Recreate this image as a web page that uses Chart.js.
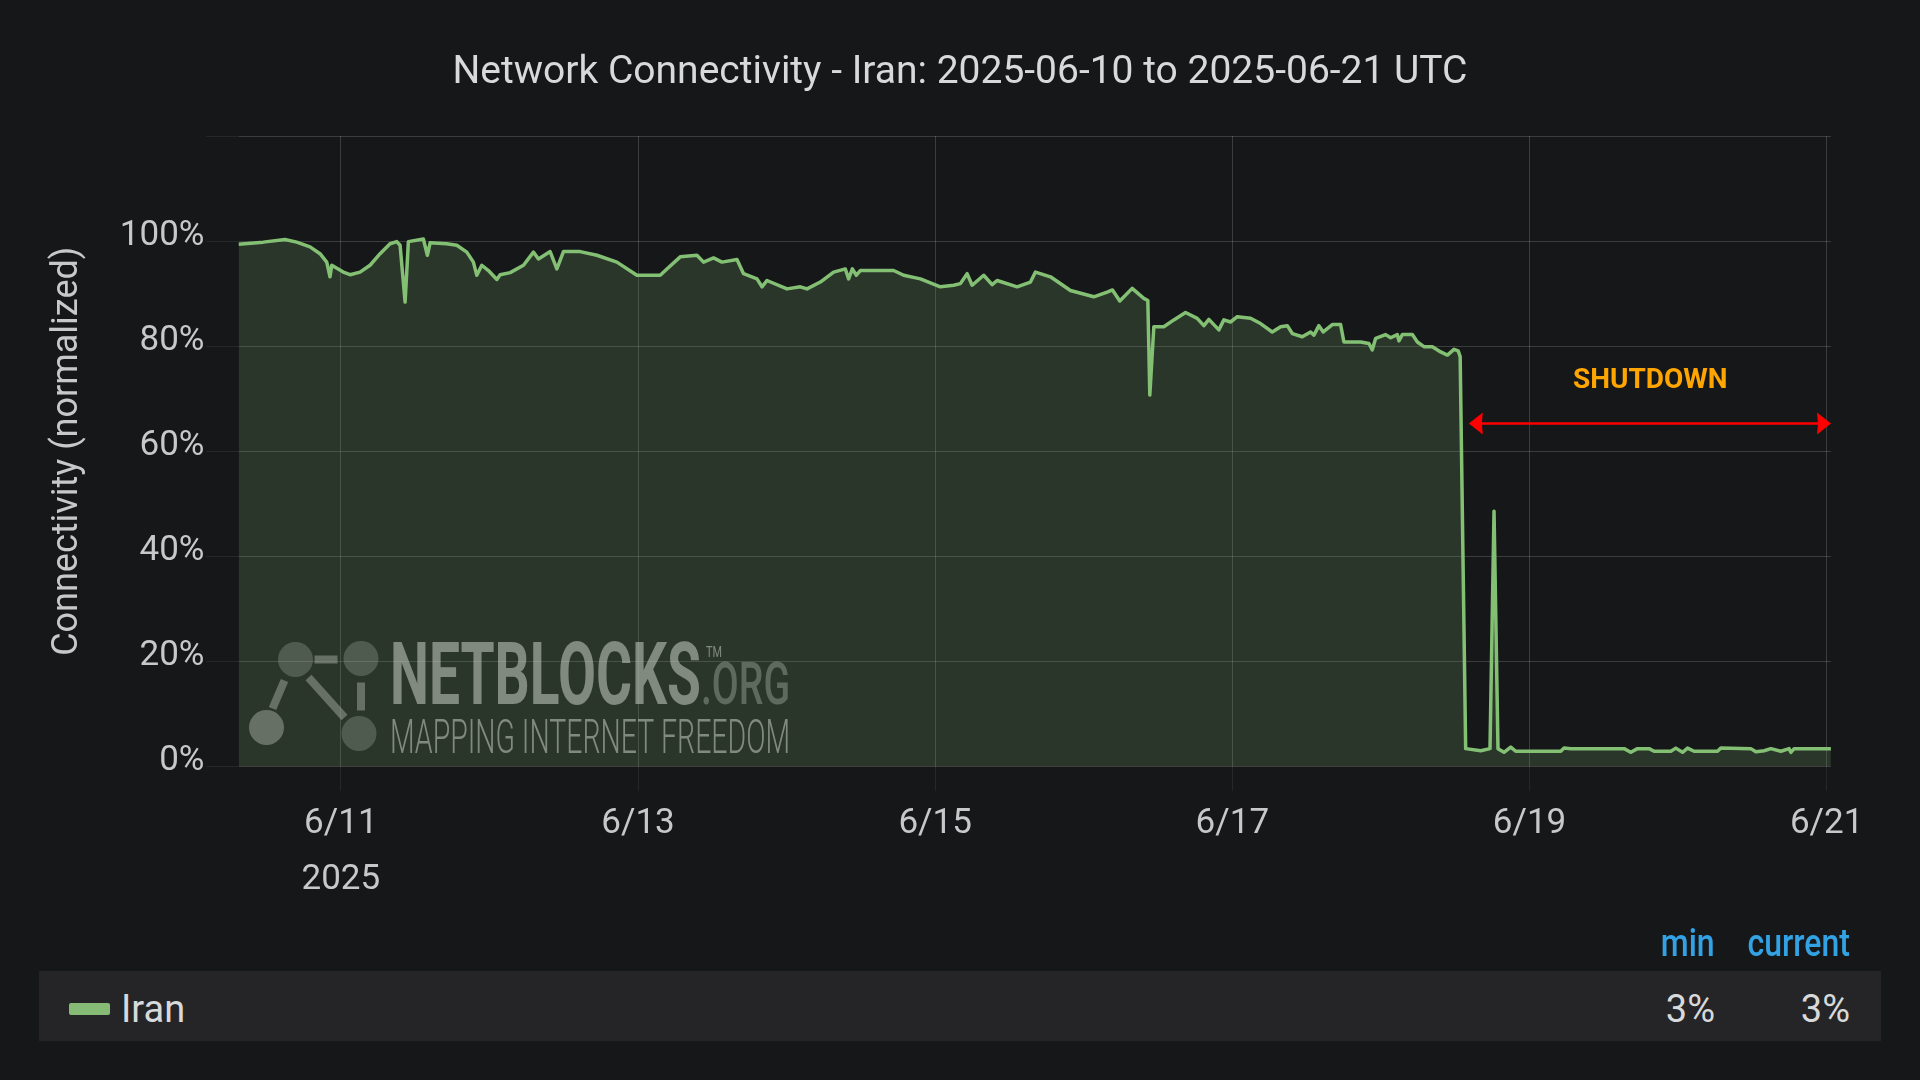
<!DOCTYPE html>
<html>
<head>
<meta charset="utf-8">
<title>Network Connectivity - Iran</title>
<script src="https://cdn.jsdelivr.net/npm/chart.js@4.4.1/dist/chart.umd.min.js"></script>
<style>
  html, body { margin: 0; padding: 0; background: #161719; }
  #wrap { position: relative; width: 1920px; height: 1080px; overflow: hidden; font-family: Roboto, "Noto Sans", sans-serif; }
  #chartBox { position: absolute; left: 0; top: 0; width: 1920px; height: 1080px; }
  .title { position: absolute; left: 0; top: 50px; width: 1920px; height: 40px; line-height: 40px; text-align: center; font-size: 39px; color: #d8d9da; }
  .head { position: absolute; top: 924px; line-height: 39px; font-size: 39px; font-weight: 500; color: #33a2e5; transform: scaleX(0.82); transform-origin: right center; white-space: nowrap; }
  .row { position: absolute; left: 39px; top: 971px; width: 1842px; height: 70px; background: #252527; }
  .swatch { position: absolute; left: 69px; top: 1003px; width: 41px; height: 12px; border-radius: 2px; background: #86bb76; }
  .cell { position: absolute; top: 990px; line-height: 38px; font-size: 38px; color: #d8d9da; white-space: nowrap; }
</style>
</head>
<body>
<div id="wrap">
  <div id="chartBox"><canvas id="myChart"></canvas></div>
  <div class="title">Network Connectivity - Iran: 2025-06-10 to 2025-06-21 UTC</div>
  <div class="head" style="right:205px">min</div>
  <div class="head" style="right:70px">current</div>
  <div class="row"></div>
  <div class="swatch"></div>
  <div class="cell" style="left:121px">Iran</div>
  <div class="cell" style="right:205px">3%</div>
  <div class="cell" style="right:70px">3%</div>
</div>
<script>
// hours since 2025-06-10 00:00 UTC
const hours = [7.47, 11.47, 14.98, 16.87, 19.02, 20.64, 21.72, 22.25, 22.53, 24.40,
  25.49, 27.10, 28.72, 30.34, 31.95, 33.03, 33.57, 34.38, 34.91, 37.33,
  37.98, 38.42, 41.12, 42.73, 44.35, 45.41, 45.96, 46.77, 47.84, 49.20,
  49.73, 51.35, 53.50, 55.11, 55.92, 57.81, 58.89, 59.96, 62.66, 65.36,
  68.59, 71.82, 75.59, 76.67, 78.82, 81.52, 82.59, 84.20, 85.56, 87.99,
  89.05, 91.22, 92.03, 92.83, 96.07, 98.22, 99.30, 101.45, 103.60, 105.49,
  106.02, 106.62, 107.27, 107.91, 113.29, 114.91, 117.61, 120.84, 122.99, 124.07,
  125.16, 125.97, 127.84, 129.20, 130.01, 133.24, 135.39, 136.20, 138.62, 141.85,
  145.62, 147.78, 148.64, 149.82, 151.82, 153.70, 154.35, 154.67, 155.32, 156.93,
  158.55, 160.44, 162.33, 163.40, 164.21, 165.82, 166.63, 167.71, 168.80, 170.94,
  172.56, 174.45, 175.80, 176.88, 177.69, 179.30, 180.64, 181.18, 181.98, 182.69,
  184.15, 185.49, 186.02, 188.72, 190.06, 190.61, 191.15, 192.76, 193.57, 194.65,
  194.91, 195.46, 197.08, 197.89, 198.95, 200.31, 201.65, 202.74, 203.80, 204.48,
  204.80, 205.69, 208.12, 209.62, 210.27, 210.91, 211.88, 212.97, 213.77, 221.05,
  221.58, 222.66, 231.28, 232.36, 233.44, 235.32, 236.13, 238.83, 239.63, 240.72,
  241.53, 242.59, 246.37, 246.90, 251.75, 252.56, 253.90, 254.99, 256.60, 257.94,
  258.22, 258.75, 264.68];

// connectivity, percent of normal
const iran = [99.4, 99.8, 100.3, 99.8, 98.9, 97.6, 96.0, 93.2, 95.4, 94.1,
  93.6, 94.1, 95.4, 97.6, 99.5, 99.9, 99.2, 88.4, 99.9, 100.4,
  97.3, 99.7, 99.5, 99.2, 97.9, 96.0, 93.5, 95.4, 94.4, 92.7,
  93.6, 94.0, 95.4, 97.9, 96.6, 98.0, 94.7, 98.0, 98.0, 97.3,
  96.0, 93.5, 93.5, 94.7, 97.0, 97.3, 96.0, 96.8, 96.0, 96.5,
  93.8, 92.8, 91.3, 92.5, 90.9, 91.3, 90.9, 92.2, 94.1, 94.7,
  92.8, 94.7, 93.5, 94.4, 94.4, 93.5, 92.8, 91.3, 91.6, 91.9,
  93.8, 91.6, 93.5, 91.7, 92.5, 91.3, 92.2, 94.1, 93.2, 90.6,
  89.4, 90.3, 90.7, 88.6, 91.0, 89.1, 88.7, 70.7, 83.7, 83.7,
  85.0, 86.4, 85.3, 83.9, 85.1, 83.1, 85.0, 84.6, 85.6, 85.3,
  84.3, 82.7, 83.7, 83.9, 82.4, 81.8, 82.7, 82.1, 83.9, 82.7,
  84.1, 84.1, 80.8, 80.8, 80.5, 79.3, 81.5, 82.2, 81.6, 82.2,
  81.0, 82.2, 82.2, 80.8, 79.9, 79.9, 78.9, 78.3, 79.4, 79.1,
  78.0, 3.4, 3.0, 3.4, 48.6, 3.4, 2.7, 3.7, 2.9, 2.9,
  3.5, 3.4, 3.4, 2.7, 3.4, 3.4, 2.9, 2.9, 3.5, 2.7,
  3.5, 2.9, 2.9, 3.5, 3.4, 2.8, 3.0, 3.4, 2.9, 3.4,
  2.7, 3.4, 3.4];

const tickHours = [24, 72, 120, 168, 216, 264];
const tickLabels = ['6/11', '6/13', '6/15', '6/17', '6/19', '6/21'];
const yTicks = [0, 20, 40, 60, 80, 100, 120];

// shutdown annotation
const shutdownStart = 206.2;
const shutdownEnd = 264.7;
const arrowLevel = 65.3;
const labelTime = 235.5;
const labelLevel = 73.4;

const textColor = '#c7c8ca';
const gridColor = 'rgba(255,255,255,0.16)';

const fitText = function(ctx, text, font, x, y, w) {
    ctx.font = font;
    const m = ctx.measureText(text).width;
    ctx.save();
    ctx.translate(x, y);
    ctx.scale(w / m, 1);
    ctx.fillText(text, 0, 0);
    ctx.restore();
}

const watermark = {
    id: 'watermark',
    afterDatasetsDraw(chart) {
        const ctx = chart.ctx;
        const ox = chart.chartArea.left, oy = chart.chartArea.bottom;
        ctx.save();
        ctx.textAlign = 'left';
        ctx.textBaseline = 'alphabetic';
        // node graph
        const dark = 'rgba(170,178,168,0.3)';
        const light = 'rgba(170,178,168,0.48)';
        ctx.lineWidth = 8;
        ctx.lineCap = 'butt';
        ctx.strokeStyle = light;
        ctx.beginPath(); ctx.moveTo(ox + 76, oy - 107); ctx.lineTo(ox + 99, oy - 107); ctx.stroke();
        ctx.beginPath(); ctx.moveTo(ox + 46, oy - 86); ctx.lineTo(ox + 34, oy - 58); ctx.stroke();
        ctx.beginPath(); ctx.moveTo(ox + 70, oy - 89); ctx.lineTo(ox + 106, oy - 49); ctx.stroke();
        ctx.beginPath(); ctx.moveTo(ox + 122.5, oy - 84); ctx.lineTo(ox + 122.5, oy - 56); ctx.stroke();
        const nodes = [[57, -107, dark], [122.5, -108, dark], [28, -39, light], [120.5, -33, dark]];
        nodes.forEach(n => {
            ctx.fillStyle = n[2];
            ctx.beginPath();
            ctx.arc(ox + n[0], oy + n[1], 17.5, 0, Math.PI * 2);
            ctx.fill();
        });
        ctx.fillStyle = 'rgba(200,208,198,0.55)';
        fitText(ctx, 'NETBLOCKS', 'bold 87px Roboto', ox + 151.5, oy - 63, 311);
        fitText(ctx, 'TM', '15px Roboto', ox + 467.5, oy - 110, 16);
        fitText(ctx, 'MAPPING INTERNET FREEDOM', '300 48px Roboto', ox + 151.5, oy - 14, 400);
        ctx.fillStyle = 'rgba(200,208,198,0.34)';
        fitText(ctx, '.ORG', '500 60px Roboto', ox + 462.5, oy - 63, 89);
        ctx.restore();
    }
};

const shutdown = {
    id: 'shutdown',
    afterDatasetsDraw(chart) {
        const ctx = chart.ctx;
        const x = chart.scales.x, y = chart.scales.y;
        const x0 = x.getPixelForValue(shutdownStart);
        const x1 = x.getPixelForValue(shutdownEnd);
        const yy = y.getPixelForValue(arrowLevel);
        ctx.save();
        ctx.strokeStyle = '#ff0000';
        ctx.fillStyle = '#ff0000';
        ctx.lineWidth = 2.5;
        ctx.beginPath(); ctx.moveTo(x0 + 8, yy); ctx.lineTo(x1 - 8, yy); ctx.stroke();
        ctx.beginPath(); ctx.moveTo(x0, yy); ctx.lineTo(x0 + 14, yy - 11); ctx.lineTo(x0 + 13, yy); ctx.lineTo(x0 + 14, yy + 11); ctx.closePath(); ctx.fill();
        ctx.beginPath(); ctx.moveTo(x1, yy); ctx.lineTo(x1 - 14, yy - 11); ctx.lineTo(x1 - 13, yy); ctx.lineTo(x1 - 14, yy + 11); ctx.closePath(); ctx.fill();
        ctx.font = 'bold 28px Roboto';
        ctx.fillStyle = '#ffa500';
        ctx.textAlign = 'center';
        ctx.textBaseline = 'middle';
        ctx.fillText('SHUTDOWN', x.getPixelForValue(labelTime), y.getPixelForValue(labelLevel));
        ctx.restore();
    }
};

const canvas = document.getElementById('myChart');
const myChart = new Chart(canvas, {
    type: 'line',
    data: {
        datasets: [{
            label: 'Iran',
            data: hours.map((h, i) => ({ x: h, y: iran[i] })),
            borderColor: '#84c074',
            backgroundColor: 'rgba(126,178,109,0.2)',
            borderWidth: 3.5,
            borderJoinStyle: 'round',
            fill: 'origin',
            pointRadius: 0,
            tension: 0,
        }],
    },
    options: {
        responsive: true,
        maintainAspectRatio: false,
        animation: false,
        layout: { padding: { left: 46, right: 89, top: 136, bottom: 173.5 } },
        plugins: {
            legend: { display: false },
            tooltip: { enabled: false },
        },
        scales: {
            x: {
                type: 'linear',
                min: 7.47,
                max: 264.7,
                afterBuildTicks: s => { s.ticks = tickHours.map(v => ({ value: v })); },
                afterFit: s => { s.height = 140; },
                grid: { color: gridColor, tickLength: 24, tickColor: 'rgba(255,255,255,0.07)' },
                border: { display: false },
                ticks: {
                    maxRotation: 0,
                    autoSkip: false,
                    padding: 6,
                    color: textColor,
                    font: { family: 'Roboto', size: 35, lineHeight: 1.6 },
                    callback: v => {
                        const i = tickHours.indexOf(v);
                        return i === 0 ? [tickLabels[i], '2025'] : tickLabels[i];
                    },
                },
            },
            y: {
                min: 0,
                max: 120,
                afterBuildTicks: s => { s.ticks = yTicks.map(v => ({ value: v })); },
                afterFit: s => { s.width = 192.5; },
                grid: { color: gridColor, tickLength: 32, tickColor: 'rgba(255,255,255,0.07)' },
                border: { display: false },
                ticks: {
                    padding: 2,
                    color: textColor,
                    // second empty line lifts the label a few px above its grid line
                    font: { family: 'Roboto', size: 35, lineHeight: 0.3 },
                    callback: v => v === 120 ? '' : [v + '%', ''],
                },
                title: {
                    display: true,
                    text: 'Connectivity (normalized)',
                    color: textColor,
                    font: { family: 'Roboto', size: 36 },
                    padding: { top: 0, bottom: 0 },
                },
            },
        },
    },
    plugins: [watermark, shutdown],
});
</script>
</body>
</html>
